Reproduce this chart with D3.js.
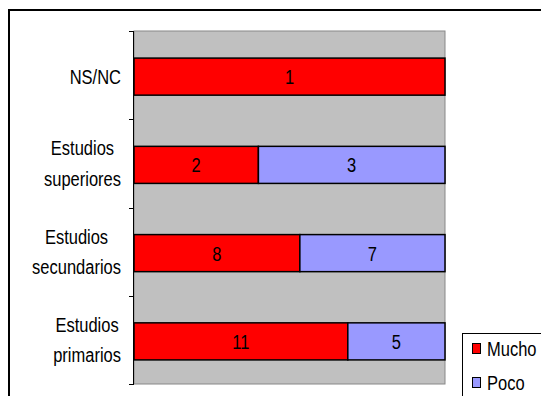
<!DOCTYPE html>
<html>
<head>
<meta charset="utf-8">
<script src="https://cdn.jsdelivr.net/npm/d3@7"></script>
<style>
  body { margin: 0; background: #fff; }
  text { font-family: "Liberation Sans", Arial, sans-serif; }
</style>
</head>
<body>
<svg id="chart" width="541" height="396"></svg>
<script>
// data
var categories = ["NS/NC", "Estudios superiores", "Estudios secundarios", "Estudios primarios"];
var seriesNames = ["Mucho", "Poco"];
var mucho = [1, 2, 8, 11];
var poco = [0, 3, 7, 5];
var colors = ["#ff0000", "#9999ff"];

var svg = d3.select("#chart");

// outer frame (runs off right and bottom edge)
svg.append("rect")
    .attr("x", 9).attr("y", 10)
    .attr("width", 620).attr("height", 500)
    .style("fill", "none").style("stroke", "#000").style("stroke-width", 2);

var plot = {left: 134, right: 445, top: 31, bottom: 384};

var x = d3.scaleLinear().domain([0, 1]).range([plot.left, plot.right]);
var y = d3.scaleBand().domain(categories)
    .range([plot.top, plot.bottom])
    .paddingInner(0.58).paddingOuter(0.29);

// plot area
svg.append("rect")
    .attr("x", plot.left).attr("y", plot.top)
    .attr("width", plot.right - plot.left).attr("height", plot.bottom - plot.top)
    .style("fill", "#c0c0c0").style("stroke", "#888").style("stroke-width", 1);

// stack as 100%
var rows = categories.map(function (c, i) {
    var tot = mucho[i] + poco[i];
    return {cat: c, Mucho: mucho[i] / tot, Poco: poco[i] / tot, raw: [mucho[i], poco[i]]};
});
var stacked = d3.stack().keys(seriesNames)(rows);

var layers = svg.append("g").selectAll("g")
    .data(stacked)
    .enter().append("g")
    .style("fill", function (d, i) { return colors[i]; });

layers.selectAll("rect")
    .data(function (d) { return d.filter(function (p) { return p[1] - p[0] > 0; }); })
    .enter().append("rect")
    .attr("x", function (d) { return x(d[0]); })
    .attr("y", function (d) { return y(d.data.cat) + 1.5; })
    .attr("width", function (d) { return x(d[1]) - x(d[0]); })
    .attr("height", y.bandwidth())
    .style("stroke", "#000").style("stroke-width", 1.5);

// value labels
stacked.forEach(function (layer, k) {
    layer.forEach(function (p, i) {
        var v = p.data.raw[k];
        if (v == 0) return;
        var cx = (x(p[0]) + x(p[1])) / 2;
        var cy = y(p.data.cat) + 1.5 + y.bandwidth() / 2;
        svg.append("text")
            .attr("transform", "translate(" + cx + "," + (cy + 7.5) + ") scale(1,1.25)")
            .attr("text-anchor", "middle")
            .style("font-size", "16.5px")
            .text(v);
    });
});

// axis line and ticks
svg.append("line")
    .attr("x1", plot.left - 0.5).attr("x2", plot.left - 0.5)
    .attr("y1", plot.top).attr("y2", plot.bottom)
    .style("stroke", "#000");
var tickYs = categories.map(function (c) { return y(c) - y.step() * y.paddingInner() / 2; });
tickYs.push(plot.bottom);
svg.selectAll(".tick")
    .data(tickYs)
    .enter().append("line")
    .attr("class", "tick")
    .attr("x1", plot.left - 5).attr("x2", plot.left)
    .attr("y1", function (d) { return Math.round(d) + 0.5; })
    .attr("y2", function (d) { return Math.round(d) + 0.5; })
    .style("stroke", "#000");

// category labels: lines centred, block right-aligned at x=121
categories.forEach(function (c) {
    var lines = c.split(" ");
    var cy = y(c) + 1.5 + y.bandwidth() / 2;
    var offs = lines.length == 1 ? [7.5] : [-9.5, 21];
    var g = svg.append("g");
    var texts = lines.map(function (t, j) {
        return g.append("text")
            .attr("text-anchor", "middle")
            .style("font-size", "16.5px")
            .datum(offs[j])
            .text(t);
    });
    var maxW = d3.max(texts, function (t) { return t.node().getComputedTextLength(); });
    var cx = 121 - maxW / 2;
    texts.forEach(function (t) {
        t.attr("transform", "translate(" + cx + "," + (cy + t.datum()) + ") scale(1,1.25)");
    });
});

// legend
var legend = svg.append("g");
legend.append("rect")
    .attr("x", 462.5).attr("y", 333.5)
    .attr("width", 100).attr("height", 100)
    .style("fill", "#fff").style("stroke", "#000");
var legY = [343, 377];
seriesNames.forEach(function (s, i) {
    legend.append("rect")
        .attr("x", 472.5).attr("y", legY[i] + 0.5)
        .attr("width", 8).attr("height", 10)
        .style("fill", colors[i]).style("stroke", "#000");
    legend.append("text")
        .attr("transform", "translate(487," + (legY[i] + 12.5) + ") scale(1,1.25)")
        .style("font-size", "16.5px")
        .text(s);
});
</script>
</body>
</html>
